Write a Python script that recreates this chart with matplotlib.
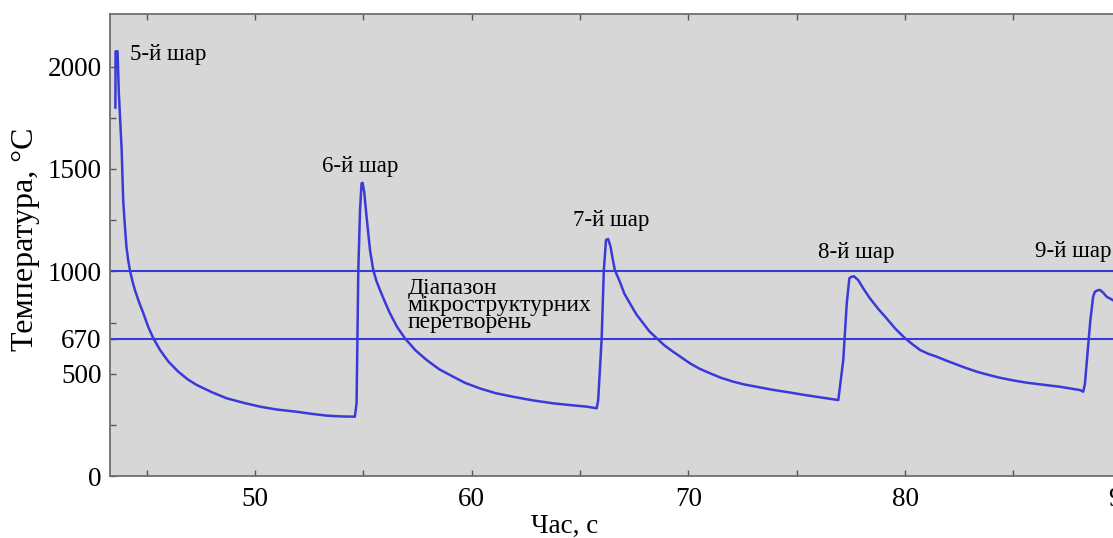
import matplotlib
matplotlib.use("Agg")
import matplotlib.pyplot as plt

plt.rcParams['font.family'] = ['Liberation Serif', 'DejaVu Serif']

# thermal cycle of the deposited layers, time in s, temperature in deg C
time_s = [43.56, 43.57, 43.66, 43.72, 43.80, 43.85, 43.92, 44.0, 44.07, 44.15,
          44.23, 44.34, 44.46, 44.65, 44.85, 45.07, 45.31, 45.62, 46.0, 46.46,
          46.9, 47.31, 48.0, 48.69, 49.5, 50.23, 51.0, 51.92, 52.6, 53.31,
          54.0, 54.61,
          54.69, 54.77, 54.85, 54.92, 54.97,
          55.04, 55.15, 55.31, 55.46, 55.6, 55.77, 56.0, 56.23, 56.55, 56.92,
          57.4, 57.92, 58.5, 59.15, 59.7, 60.38, 61.1, 61.92, 62.8, 63.77,
          64.6, 65.31, 65.77,
          65.84, 66.0, 66.1, 66.2, 66.3,
          66.41, 66.51, 66.61, 66.84, 67.05, 67.31, 67.6, 67.92, 68.2, 68.54,
          68.9, 69.3, 69.7, 70.07, 70.5, 71.0, 71.5, 72.07, 72.6, 73.15,
          73.9, 74.69, 75.3, 75.92, 76.5, 76.92,
          77.15, 77.31, 77.43, 77.5, 77.64,
          77.84, 78.1, 78.38, 78.75, 79.15, 79.55, 80.0, 80.35, 80.69, 81.05,
          81.46, 81.85, 82.23, 82.75, 83.3, 83.85, 84.38, 85.0, 85.61, 86.4,
          87.15, 87.6, 88.07, 88.22,
          88.3, 88.55, 88.68, 88.76, 88.9, 89.0, 89.15, 89.3, 89.58, 89.9]
temp_c = [1800, 2075, 2075, 1870, 1700, 1593, 1348, 1220, 1120, 1055,
          1006, 955, 909, 850, 795, 730, 673, 616, 560, 510,
          472, 445, 410, 380, 357, 339, 325, 314, 304, 295,
          291, 290,
          355, 1006, 1300, 1430, 1432,
          1390, 1268, 1104, 1006, 955, 909, 850, 795, 730, 673,
          615, 567, 522, 485, 455, 428, 405, 387, 370, 355,
          346, 339, 331,
          371, 673, 1006, 1153, 1158,
          1120, 1060, 1006, 949, 890, 843, 790, 746, 707, 673,
          638, 607, 578, 551, 525, 502, 480, 461, 447, 436,
          421, 408, 397, 387, 378, 371,
          567, 843, 966, 972, 976,
          957, 912, 868, 818, 770, 720, 673, 643, 616, 598,
          583, 566, 551, 530, 510, 494, 480, 467, 456, 446,
          436, 428, 420, 412,
          450, 760, 876, 900, 908, 909, 895, 876, 860, 835]

# bounds of the microstructural transformation range
range_bounds = [1000, 670]

layer_labels = ['5-й шар', '6-й шар', '7-й шар', '8-й шар', '9-й шар']
layer_label_t = [44.23, 54.85, 66.43, 77.73, 85.99]
layer_label_T = [2057, 1514, 1250, 1094, 1096]
layer_label_ha = ['left', 'center', 'center', 'center', 'left']

x_ticks = [45, 50, 55, 60, 65, 70, 75, 80, 85, 90]
x_tick_labels = ['', '50', '', '60', '', '70', '', '80', '', '90']
y_ticks = [0, 250, 500, 670, 750, 1000, 1250, 1500, 1750, 2000]
y_tick_labels = ['0', '', '500', '670', '', '1000', '', '1500', '', '2000']

blue = '#3a3ad8'

fig = plt.figure(figsize=(11.13, 5.38), dpi=100)
ax = fig.add_axes([0.0988, 0.1152, 0.948, 0.8587])
ax.set_facecolor('#d7d7d7')

for b in range_bounds:
    ax.axhline(b, color=blue, lw=1.5)
ax.plot(time_s, temp_c, color=blue, lw=1.8)

ax.set_xlim(43.31, 92)
ax.set_ylim(0, 2257)

ax.set_xticks(x_ticks)
ax.set_xticklabels(x_tick_labels)
ax.set_yticks(y_ticks)
ax.set_yticklabels(y_tick_labels)
ax.tick_params(axis='x', direction='in', top=True, length=4, width=1,
               color='#555555', labelsize=19.5, pad=8)
ax.tick_params(axis='y', direction='in', length=4, width=1,
               color='#555555', labelsize=19.5, pad=6)

for side in ['left', 'bottom', 'top']:
    ax.spines[side].set_color('#6e6e6e')
    ax.spines[side].set_linewidth(1.3)
ax.spines['right'].set_visible(False)

for lbl, t, T, ha in zip(layer_labels, layer_label_t, layer_label_T, layer_label_ha):
    ax.text(t, T, lbl, ha=ha, va='center', fontsize=16.5, clip_on=False)

ax.text(57.03, 967, 'Діапазон\nмікроструктурних\nперетворень', ha='left', va='top',
        fontsize=17, linespacing=0.76)

ax.set_ylabel('Температура, °C', fontsize=23)
ax.yaxis.set_label_coords(-0.066, 0.513)
ax.text(0.431, -0.11, 'Час, с', transform=ax.transAxes, ha='center', va='center',
        fontsize=19.5, clip_on=False)

fig.savefig('out.png', dpi=100, facecolor='white')
